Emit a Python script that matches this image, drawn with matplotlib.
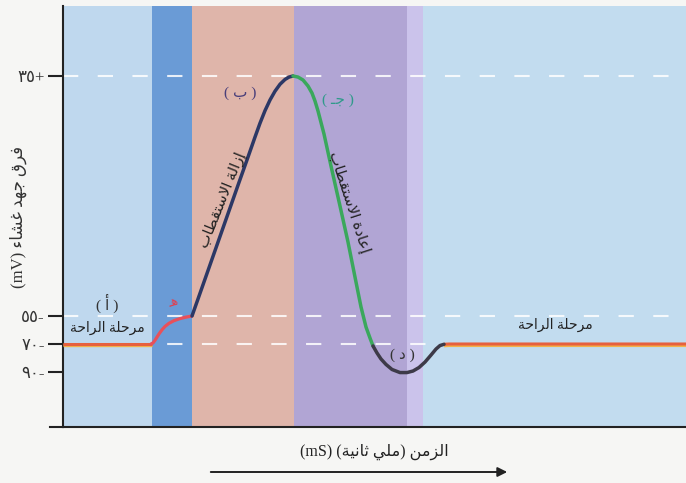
"""
جهد الفعل - مخطط تخطيطي لفرق جهد الغشاء مع الزمن
"""

import numpy as np
import matplotlib
matplotlib.use("Agg")
import matplotlib.pyplot as plt
import matplotlib.patheffects as pe

plt.rcParams['font.family'] = ['Liberation Serif', 'DejaVu Sans']
plt.rcParams['lines.scale_dashes'] = False

# ---- تشكيل الحروف العربية (لا يوجد دعم bidi في matplotlib) ----
DUAL = {'ب': 0xFE8F, 'ت': 0xFE95, 'ث': 0xFE99, 'ج': 0xFE9D, 'ح': 0xFEA1,
        'خ': 0xFEA5, 'س': 0xFEB1, 'ش': 0xFEB5, 'ص': 0xFEB9, 'ض': 0xFEBD,
        'ط': 0xFEC1, 'ظ': 0xFEC5, 'ع': 0xFEC9, 'غ': 0xFECD, 'ف': 0xFED1,
        'ق': 0xFED5, 'ك': 0xFED9, 'ل': 0xFEDD, 'م': 0xFEE1, 'ن': 0xFEE5,
        'ه': 0xFEE9, 'ي': 0xFEF1}
RIGHT = {'ا': 0xFE8D, 'أ': 0xFE83, 'إ': 0xFE87, 'آ': 0xFE81, 'د': 0xFEA9,
         'ذ': 0xFEAB, 'ر': 0xFEAD, 'ز': 0xFEAF, 'و': 0xFEED, 'ة': 0xFE93}
LAM_ALEF = {'ا': 0xFEFB, 'أ': 0xFEF7, 'إ': 0xFEF9, 'آ': 0xFEF5}


def shape(word):
    units = []
    i = 0
    while i < len(word):
        c = word[i]
        if c == 'ل' and i + 1 < len(word) and word[i + 1] in LAM_ALEF:
            units.append((LAM_ALEF[word[i + 1]], 'R'))
            i += 2
            continue
        if c in DUAL:
            units.append((DUAL[c], 'D'))
        elif c in RIGHT:
            units.append((RIGHT[c], 'R'))
        elif c == 'ـ':
            units.append((0x0640, 'T'))
        else:
            units.append((ord(c), 'U'))
        i += 1
    out = []
    for k, (code, typ) in enumerate(units):
        prev = k > 0 and units[k - 1][1] in 'DT' and typ in 'DRT'
        nxt = typ in 'DT' and k + 1 < len(units) and units[k + 1][1] in 'DRT'
        if typ == 'D':
            code += 3 if (prev and nxt) else 2 if nxt else 1 if prev else 0
        elif typ == 'R':
            code += 1 if prev else 0
        out.append(chr(code))
    return ''.join(out)


def ar(s):
    return shape(s)[::-1]


# ---- البيانات ----
# مراحل الخلفية (الزمن بوحدات ms تقريبية)
band_edges = [0, 0.89, 1.29, 2.31, 3.44, 3.60, 6.23]
band_colors = ['#bfd8ee', '#6a9bd6', '#dfb5aa', '#b1a5d4', '#cbc3eb', '#c2dcef']

# محور الجهد (mV)
ytick_vals = [35, -55, -70, -90]
ytick_labels = ['٣٥+', '٥٥-', '٧٠-', '٩٠-']
dashed_levels = [35, -55, -70]

# منحنى جهد الفعل مقسم حسب المراحل
rest1_t = [0, 0.89]
rest1_v = [-70, -70]
red_t = [0.88, 0.90, 0.92, 0.94, 0.96, 0.99, 1.02, 1.06, 1.11, 1.17, 1.23, 1.29]
red_v = [-70, -69.4, -68.0, -66.3, -64.6, -62.4, -60.6, -58.9, -57.5, -56.4, -55.6, -55]
depol_t = [1.29, 1.40, 1.52, 1.64, 1.76, 1.85, 1.92, 1.97, 2.02, 2.07, 2.12, 2.17,
           2.22, 2.26, 2.30]
depol_v = [-55, -43.3, -30.5, -17.7, -4.9, 4.6, 12.1, 17.3, 22.0, 26.0, 29.3, 31.9,
           33.7, 34.6, 35]
repol_t = [2.30, 2.35, 2.40, 2.45, 2.49, 2.52, 2.55, 2.61, 2.68, 2.77, 2.85, 2.92,
           2.98, 3.03, 3.07, 3.10]
repol_v = [35, 34.6, 33.5, 31.25, 28.6, 25.6, 21.9, 13.25, 1.25, -13.75, -27.25, -40.4,
           -51.6, -60.9, -66.8, -71.4]
hyper_t = [3.10, 3.14, 3.18, 3.23, 3.29, 3.37, 3.44, 3.50, 3.56, 3.62, 3.68, 3.73,
           3.77, 3.81]
hyper_v = [-71.4, -76.4, -80.7, -84.6, -88.2, -90.4, -90.4, -89.3, -86.8, -82.9, -77.9,
           -73.6, -71.1, -70.2]
rest2_t = [3.81, 3.86, 6.23]
rest2_v = [-70.2, -70, -70]

# سلم الجهد غير خطي في الرسم الأصلي
mv_anchor = [-200, -90, -70, -55, 35, 150]
h_anchor = [-99, 55, 83, 111, 351, 657.67]


def fwd(v):
    return np.interp(v, mv_anchor, h_anchor)


def inv(h):
    return np.interp(h, h_anchor, mv_anchor)


fig = plt.figure(figsize=(6.86, 4.83), dpi=100, facecolor='#f6f6f4')
ax = fig.add_axes([63 / 686, 56 / 483, 623 / 686, 421 / 483])
ax.set_yscale('function', functions=(fwd, inv))
ax.set_xlim(band_edges[0], band_edges[-1])
ax.set_ylim(inv(0), inv(421))

for x0, x1, c in zip(band_edges[:-1], band_edges[1:], band_colors):
    ax.axvspan(x0, x1, color=c, lw=0, zorder=0)

for lv in dashed_levels:
    ax.axhline(lv, color='white', alpha=0.85, lw=1.5, dashes=(11, 14), zorder=1)

rest_fx = [pe.Stroke(linewidth=2.4, foreground='#f3b24a', offset=(0, -1.0)), pe.Normal()]
ax.plot(rest1_t, rest1_v, color='#e6603e', lw=2.2, zorder=3, solid_capstyle='butt',
        path_effects=rest_fx)
ax.plot(rest2_t, rest2_v, color='#e6603e', lw=2.2, zorder=3, solid_capstyle='butt',
        path_effects=rest_fx)
curve_kw = dict(zorder=3, solid_joinstyle='round', solid_capstyle='round')
ax.plot(red_t, red_v, color='#e8505a', lw=2.3, **curve_kw)
ax.plot(depol_t, depol_v, color='#2c3866', lw=2.5, **curve_kw)
ax.plot(repol_t, repol_v, color='#3aa85c', lw=2.5, **curve_kw)
ax.plot(hyper_t, hyper_v, color='#3d3a48', lw=2.5, **curve_kw)

# نصوص داخل الرسم
ax.text(0.44, -50.1, '( ' + ar('أ') + ' )', ha='center', va='center', fontsize=11, color='#333333')
ax.text(0.44, -61.5, ar('مرحلة الراحة'), ha='center', va='center', fontsize=10, color='#222222')
ax.text(1.10, -50.0, ar('هـ'), ha='center', va='center', fontsize=9, color='#e04050', rotation=15)
ax.text(1.77, 28.6, '( ' + ar('ب') + ' )', ha='center', va='center', fontsize=11, color='#4a3f7a')
ax.text(2.75, 26.0, '( ' + ar('جـ') + ' )', ha='center', va='center', fontsize=11, color='#2f9a8a')
ax.text(3.39, -77.9, '( ' + ar('د') + ' )', ha='center', va='center', fontsize=11, color='#333333')
ax.text(4.92, -59.8, ar('مرحلة الراحة'), ha='center', va='center', fontsize=10, color='#222222')
ax.text(1.59, -11.5, ar('إزالة الاستقطاب'), ha='center', va='center', fontsize=11,
        rotation=68, rotation_mode='anchor', color='#222222')
ax.text(2.86, -12.3, ar('إعادة الاستقطاب'), ha='center', va='center', fontsize=11,
        rotation=-72, rotation_mode='anchor', color='#222222')

# المحاور
for s in ['top', 'right']:
    ax.spines[s].set_visible(False)
ax.spines['left'].set_linewidth(1.5)
ax.spines['bottom'].set_linewidth(1.5)
ax.spines['left'].set_color('#222222')
ax.spines['bottom'].set_color('#222222')
ax.plot([-0.021, 0], [0, 0], transform=ax.transAxes, color='#222222', lw=1.5, clip_on=False)
ax.set_xticks([])
ax.set_yticks(ytick_vals)
ax.set_yticklabels(ytick_labels)
ax.tick_params(axis='y', length=11, width=1.5, color='#222222', pad=2, labelsize=12,
               labelcolor='#333333')
ax.minorticks_off()

fig.text(18 / 686, 1 - 217 / 483, '(mV) ' + ar('فرق جهد غشاء'), rotation=90,
         ha='center', va='center', fontsize=12, color='#333333')
fig.text(374 / 686, 1 - 452 / 483, '(mS) (' + ar('ملي ثانية') + ') ' + ar('الزمن'),
         ha='center', va='center', fontsize=11.5, color='#222222')
fig.patches.append(matplotlib.patches.FancyArrowPatch(
    (208 / 686, 1 - 472 / 483), (510 / 686, 1 - 472 / 483), transform=fig.transFigure,
    arrowstyle='-|>', mutation_scale=14, lw=1.4, color='#222222'))

fig.savefig('out.png', dpi=100, facecolor=fig.get_facecolor())
